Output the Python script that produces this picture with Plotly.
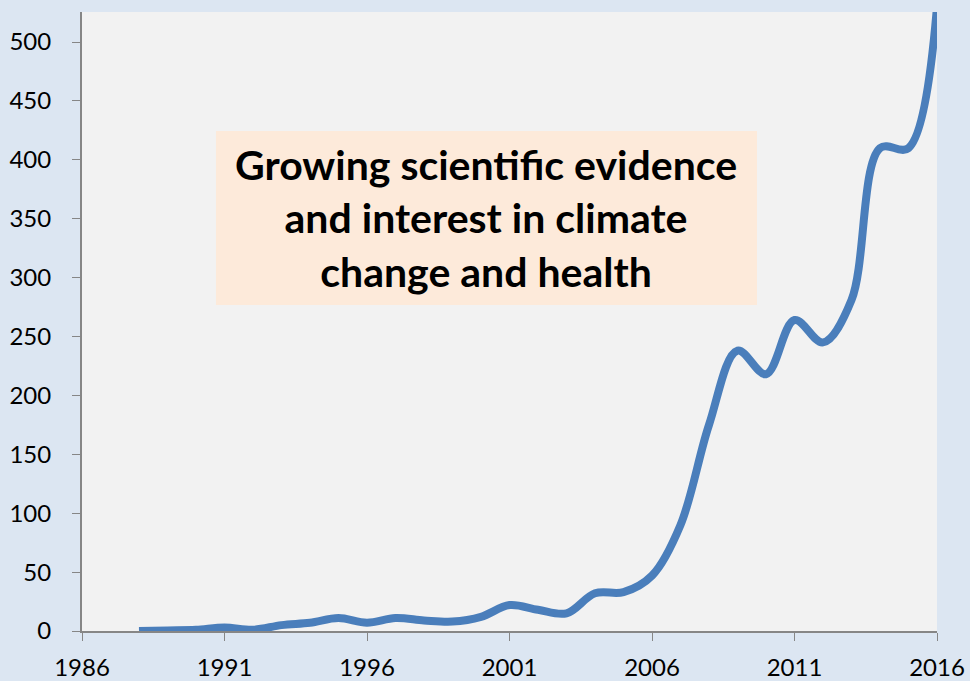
import plotly.graph_objects as go

years = list(range(1988, 2017))
counts = [0, 0.5, 1, 3, 1, 5, 7, 11, 7, 11, 9, 8, 12, 22, 18, 15, 32, 33, 47, 90, 175, 238, 218, 264, 245, 281, 410, 410, 530]

x_ticks = [1986, 1991, 1996, 2001, 2006, 2011, 2016]
y_ticks = [0, 50, 100, 150, 200, 250, 300, 350, 400, 450, 500]
label_lines = ["Growing scientific evidence", "and interest in climate", "change and health"]

fig = go.Figure()
fig.add_trace(go.Scatter(
    x=years, y=counts, mode="lines",
    line=dict(color="#4a7ebb", width=8, shape="spline", smoothing=1.0),
    showlegend=False, cliponaxis=True,
))

fig.add_shape(type="rect", xref="paper", yref="paper",
              x0=0.1567, x1=0.7895, y0=0.5267, y1=0.8078,
              fillcolor="#fdeada", line=dict(width=0), layer="below")
fig.add_annotation(xref="paper", yref="paper", x=0.473, y=0.667,
                   text="<br>".join(label_lines), showarrow=False,
                   font=dict(family="Lato", size=41, color="#000000", weight="bold"),
                   align="center", xanchor="center", yanchor="middle")

axis_font = dict(family="Lato", size=24, color="#000000")
fig.update_layout(
    width=970, height=681,
    margin=dict(l=82, r=33, t=12, b=50, autoexpand=False),
    paper_bgcolor="#dce6f2",
    plot_bgcolor="#f2f2f2",
    xaxis=dict(range=[1986, 2016], tickvals=x_ticks, ticks="outside", ticklen=8,
               tickcolor="#868686", showline=True, linecolor="#868686", linewidth=2,
               showgrid=False, zeroline=False, tickfont=axis_font, ticklabelstandoff=6,
               automargin=False),
    yaxis=dict(range=[0, 525.5], tickvals=y_ticks, ticks="outside", ticklen=8,
               tickcolor="#868686", showline=True, linecolor="#868686", linewidth=2,
               showgrid=False, zeroline=False, tickfont=axis_font, ticklabelstandoff=16,
               automargin=False),
)
fig.write_html("out.html", config={"displayModeBar": False},
               post_script="document.body.style.margin='0';document.body.style.overflow='hidden';")
